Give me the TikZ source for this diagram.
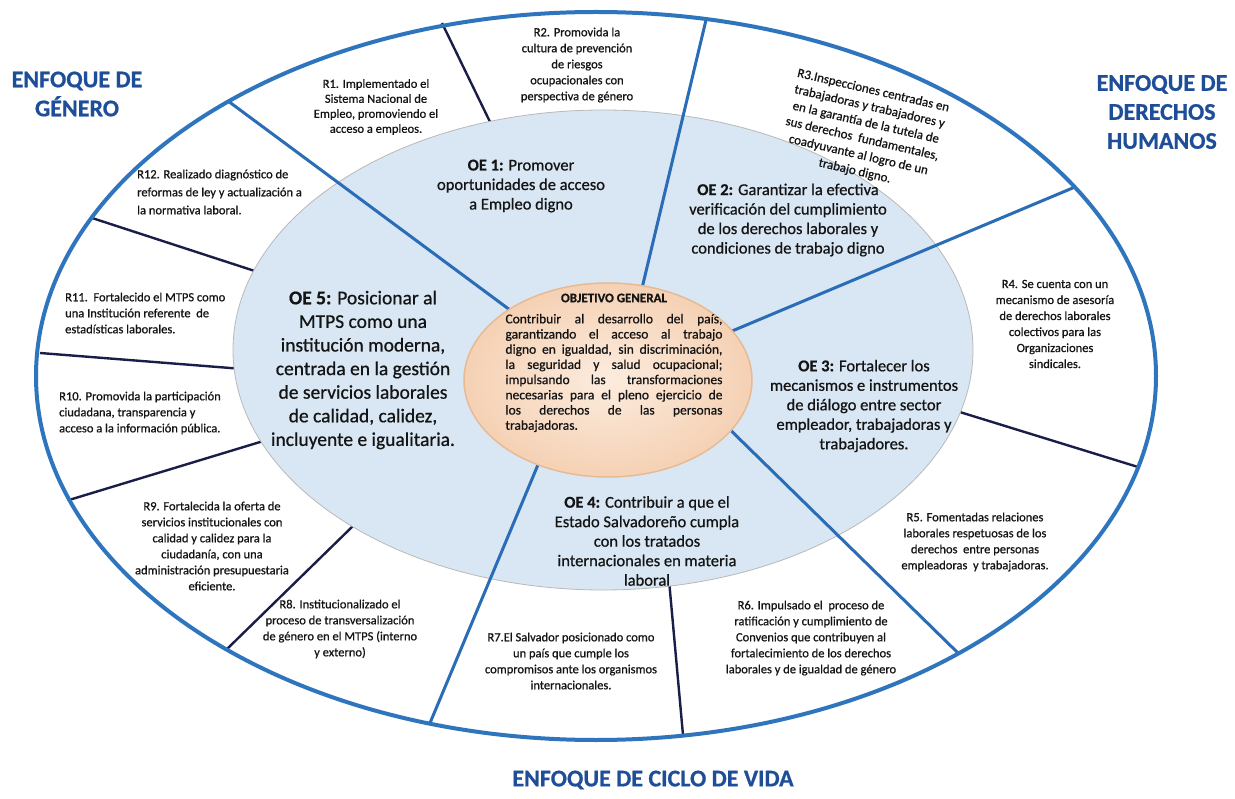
\documentclass[tikz,border=0pt]{standalone}
\usepackage{fontspec}
\setmainfont{Carlito}[RawFeature={embolden=0.7}]

\definecolor{ringblue}{RGB}{47,117,190}
\definecolor{spokeblue}{RGB}{42,108,182}
\definecolor{navyline}{RGB}{24,30,72}
\definecolor{oefill}{RGB}{216,231,243}
\definecolor{oginner}{RGB}{252,236,222}
\definecolor{ogouter}{RGB}{245,209,180}
\definecolor{ogedge}{RGB}{232,186,148}
\definecolor{titleblue}{RGB}{31,78,152}
\definecolor{ink}{RGB}{20,20,20}

\begin{document}
\begin{tikzpicture}[x=1pt,y=-1pt,
	rtext/.style={font=\fontsize{12.5}{16}\selectfont, align=center, text=ink, inner sep=0pt},
	rleft/.style={rtext, align=left},
	oetext/.style={font=\fontsize{16.5}{19.5}\selectfont, align=center, text=ink, inner sep=0pt},
	enfoque/.style={font=\fontsize{24}{29}\selectfont\bfseries, align=center, text=titleblue, inner sep=0pt},
	spoke/.style={draw=spokeblue, line width=3pt},
	divider/.style={draw=navyline, line width=2.4pt}]
			\useasboundingbox (0,0) rectangle (1235,799);
			%Spoke ends
			\coordinate (S1a) at (510,310); \coordinate (S1b) at (228,101);
			\coordinate (S2a) at (638,305); \coordinate (S2b) at (706,20);
			\coordinate (S3a) at (725,334); \coordinate (S3b) at (1075,187);
			\coordinate (S4a) at (712,412); \coordinate (S4b) at (958,653);
			\coordinate (S5a) at (545,448); \coordinate (S5b) at (430,723);
			%Divider ends
			\coordinate (D1a) at (492,126); \coordinate (D1b) at (442,23);
			\coordinate (D2a) at (267,275); \coordinate (D2b) at (92,218);
			\coordinate (D3a) at (243,369); \coordinate (D3b) at (40,353);
			\coordinate (D4a) at (270,439); \coordinate (D4b) at (69,500);
			\coordinate (D5a) at (354,525); \coordinate (D5b) at (226,650);
			\coordinate (D6a) at (669,580); \coordinate (D6b) at (683,735);
			\coordinate (D7a) at (950,409); \coordinate (D7b) at (1138,467);
			%Outer ring
			\fill[white] (596,376) ellipse [x radius=560pt, y radius=364pt];
			\foreach \d in {1,...,7}
				\draw[divider] (D\d a) -- (D\d b);
			%Specific objectives
			\filldraw[fill=oefill, draw=gray!55, line width=0.8pt] (603,350) ellipse [x radius=370pt, y radius=240pt];
			\foreach \s in {1,...,5}
				\draw[spoke] (S\s a) -- (S\s b);
			\draw[ringblue, line width=4pt] (596,376) ellipse [x radius=560pt, y radius=364pt];
			%General objective
			\shade[inner color=oginner, outer color=ogouter] (608,380) ellipse [x radius=144pt, y radius=97pt];
			\draw[ogedge, line width=1.5pt] (608,380) ellipse [x radius=144pt, y radius=97pt];
			\node[font=\fontsize{13}{15}\selectfont\bfseries, text=ink, inner sep=0pt] (og) at (614,298) {OBJETIVO GENERAL};
			\node[text width=217pt, align=justify, font=\fontsize{13.5}{15.2}\selectfont, text=ink, inner sep=0pt] (ogtext) at (614,373)
				{Contribuir al desarrollo del país,\linebreak garantizando el acceso al trabajo\linebreak digno en igualdad, sin discriminación,\linebreak la seguridad y salud ocupacional;\linebreak impulsando las transformaciones\linebreak necesarias para el pleno ejercicio de\linebreak los derechos de las personas\linebreak trabajadoras.};
			%Objectives
			\node[oetext] (oe1) at (521,186) {\textbf{OE 1:} Promover\\oportunidades de acceso\\a Empleo digno};
			\node[oetext] (oe2) at (788,220) {\textbf{OE 2:} Garantizar la efectiva\\verificación del cumplimiento\\de los derechos laborales y\\condiciones de trabajo digno};
			\node[oetext] (oe3) at (864,406) {\textbf{OE 3:} Fortalecer los\\mecanismos e instrumentos\\de diálogo entre sector\\empleador, trabajadoras y\\trabajadores.};
			\node[oetext] (oe4) at (647,541) {\textbf{OE 4:} Contribuir a que el\\Estado Salvadoreño cumpla\\con los tratados\\internacionales en materia\\laboral};
			\node[oetext, font=\fontsize{19.5}{23.6}\selectfont] (oe5) at (363,370) {\textbf{OE 5:} Posicionar al\\MTPS como una\\institución moderna,\\centrada en la gestión\\de servicios laborales\\de calidad, calidez,\\incluyente e igualitaria.};
			%Results
			\node[rtext, font=\fontsize{12.5}{15}\selectfont] (r1) at (376,107) {R1. Implementado el\\Sistema Nacional de\\Empleo, promoviendo el\\acceso a empleos.};
			\node[rtext] (r2) at (577,65) {R2. Promovida la\\cultura de prevención\\de riesgos\\ocupacionales con\\perspectiva de género};
			\node[rtext, font=\fontsize{13}{16.5}\selectfont, rotate=-13] (r3) at (864,131) {R3.Inspecciones centradas en\\trabajadoras y trabajadores y\\en la garantía de la tutela de\\sus derechos\ \ fundamentales,\\coadyuvante al logro de un\\trabajo digno.};
			\node[rtext] (r4) at (1055,324) {R4. Se cuenta con un\\mecanismo de asesoría\\de derechos laborales\\colectivos para las\\Organizaciones\\sindicales.};
			\node[rtext] (r5) at (975,542) {R5. Fomentadas relaciones\\laborales respetuosas de los\\derechos\ \ entre personas\\empleadoras\ \ y trabajadoras.};
			\node[rtext] (r6) at (811,638) {R6. Impulsado el\ \ proceso de\\ratificación y cumplimiento de\\Convenios que contribuyen al\\fortalecimiento de los derechos\\laborales y de igualdad de género};
			\node[rtext] (r7) at (571,661) {R7.El Salvador posicionado como\\un país que cumple los\\compromisos ante los organismos\\internacionales.};
			\node[rtext] (r8) at (340,629) {R8. Institucionalizado el\\proceso de transversalización\\de género en el MTPS (interno\\y externo)};
			\node[rtext] (r9) at (212,546) {R9. Fortalecida la oferta de\\servicios institucionales con\\calidad y calidez para la\\ciudadanía, con una\\administración presupuestaria\\eficiente.};
			\node[rleft, anchor=west] (r10) at (59,413) {R10. Promovida la participación\\ciudadana, transparencia y\\acceso a la información pública.};
			\node[rleft, anchor=west] (r11) at (65,313) {R11.\ \ Fortalecido el MTPS como\\una Institución referente\ \ de\\estadísticas laborales.};
			\node[rleft, anchor=west, font=\fontsize{12.5}{18}\selectfont] (r12) at (137,192) {R12. Realizado diagnóstico de\\reformas de ley y actualización a\\la normativa laboral.};
			%Approaches
			\node[enfoque] (enfGenero) at (77,94) {ENFOQUE DE\\GÉNERO};
			\node[enfoque] (enfDerechos) at (1162,112) {ENFOQUE DE\\DERECHOS\\HUMANOS};
			\node[enfoque] (enfCiclo) at (653,780) {ENFOQUE DE CICLO DE VIDA};
\end{tikzpicture}
\end{document}
